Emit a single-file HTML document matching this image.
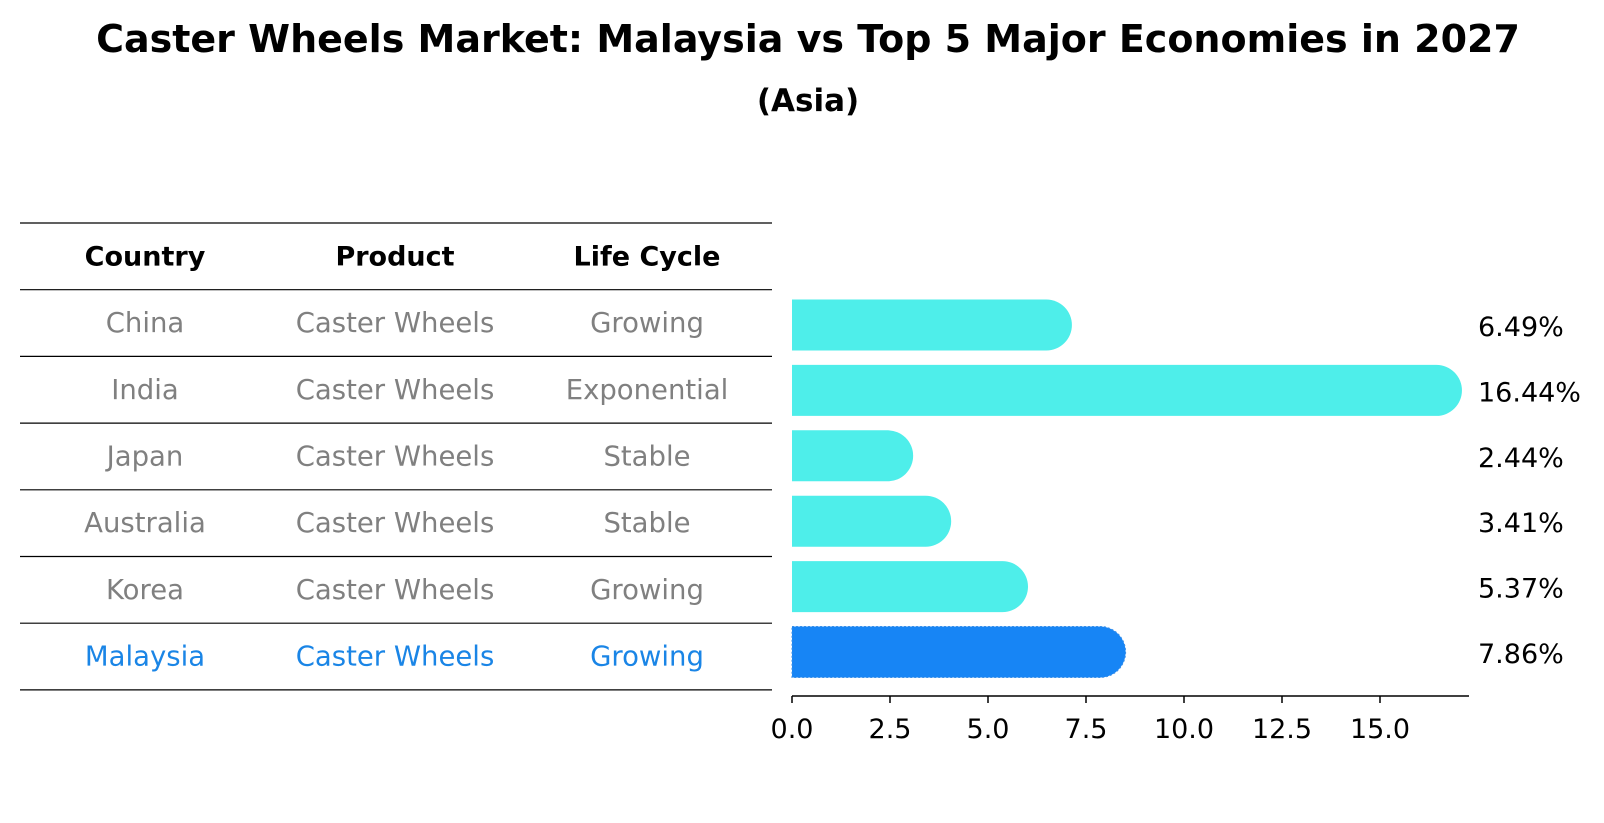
<!DOCTYPE html>
<html><head><meta charset="utf-8">
<style>
body{margin:0;background:#fff;font-family:"Liberation Sans","DejaVu Sans",sans-serif;}
svg{display:block}
</style></head>
<body>
<svg id="chart" width="1604" height="823" viewBox="0 0 1604 823" xmlns="http://www.w3.org/2000/svg" font-family="DejaVu Sans, Liberation Sans, sans-serif">
<text x="808" y="52" text-anchor="middle" font-size="38" font-weight="bold">Caster Wheels Market: Malaysia vs Top 5 Major Economies in 2027</text>
<text x="808" y="111" text-anchor="middle" font-size="31" font-weight="bold">(Asia)</text>
<g id="table"></g>
<g id="bars"></g>
<g id="xaxis"></g>
</svg>
<script>
const countries = ["China","India","Japan","Australia","Korea","Malaysia"];
const products = ["Caster Wheels","Caster Wheels","Caster Wheels","Caster Wheels","Caster Wheels","Caster Wheels"];
const lifecycles = ["Growing","Exponential","Stable","Stable","Growing","Growing"];
const values = [6.49,16.44,2.44,3.41,5.37,7.86];
const valueLabels = ["6.49%","16.44%","2.44%","3.41%","5.37%","7.86%"];
const xTicks = [0,2.5,5,7.5,10,12.5,15];
const xTickLabels = ["0.0","2.5","5.0","7.5","10.0","12.5","15.0"];

const NS="http://www.w3.org/2000/svg";
function mk(tag, attrs, parent){const e=document.createElementNS(NS,tag);for(const k in attrs)e.setAttribute(k,attrs[k]);parent.appendChild(e);return e;}
const x0=792, pxPer=39.2;
function xs(v){return x0+v*pxPer;}
const rowTop=223, rowH=66.7;
function yc(i){return 325+i*65.4;}

const table=document.getElementById('table');
const colX=[145,395,647];
const headers=["Country","Product","Life Cycle"];
for(let l=0;l<=countries.length+1;l++){
  const ln=mk('line',{x1:20,x2:772,y1:rowTop+l*rowH,y2:rowTop+l*rowH,stroke:'#000','stroke-width':1.2},table);
  
  
}
headers.forEach((h,j)=>{
  const t=mk('text',{x:colX[j],y:rowTop+rowH/2+9,'text-anchor':'middle','font-size':27,'font-weight':'bold'},table);
  t.textContent=h;
  
  
});
countries.forEach((c,i)=>{
  const color = c==="Malaysia"?"#1a85e6":"#808080";
  [c,products[i],lifecycles[i]].forEach((s,j)=>{
    const t=mk('text',{x:colX[j],y:rowTop+rowH*(i+1)+rowH/2+9,'text-anchor':'middle','font-size':27.5,fill:color},table);
    t.textContent=s;
    
    
  });
});

const bars=document.getElementById('bars');
const bh=51;
values.forEach((v,i)=>{
  const isM = countries[i]==="Malaysia";
  const color = isM?"#1785f5":"#4eeeea";
  const p=mk('path',{d:`M${x0},${yc(i)-bh/2} H${xs(v)} A${bh/2},${bh/2} 0 0 1 ${xs(v)},${yc(i)+bh/2} H${x0} Z`,fill:color},bars);
  if(isM){p.setAttribute('stroke','#3a8fe8');p.setAttribute('stroke-dasharray','2 2');p.setAttribute('stroke-width','1');}
  
  
  const t=mk('text',{x:1478,y:yc(i)+11,'font-size':27},bars);
  t.textContent=valueLabels[i];
  
  
});

const ax=document.getElementById('xaxis');
const al=mk('line',{x1:x0,x2:1469,y1:696,y2:696,stroke:'#000','stroke-width':1.5},ax);


xTicks.forEach((v,i)=>{
  const tk=mk('line',{x1:xs(v),x2:xs(v),y1:696,y2:703,stroke:'#000','stroke-width':1.5},ax);
  
  
  const t=mk('text',{x:xs(v),y:738,'text-anchor':'middle','font-size':27},ax);
  t.textContent=xTickLabels[i];
  
  
});
</script>
</body></html>
